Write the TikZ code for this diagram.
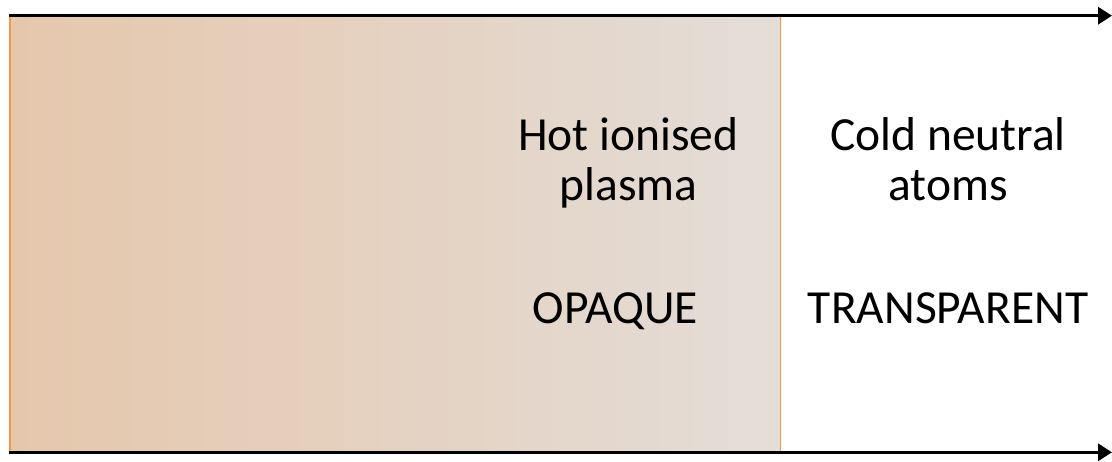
\documentclass[tikz,border=0pt]{standalone}
\usepackage{fontspec}
\setmainfont{Carlito}
\usetikzlibrary{arrows.meta}
\definecolor{leftc}{RGB}{229,199,172}
\definecolor{rightc}{RGB}{228,221,216}
\definecolor{edgeor}{RGB}{247,150,70}
\tikzset{
  axisarrow/.style={line width=3.4pt,-{Triangle[length=14pt,width=17pt]}},
  lbl/.style={font=\fontsize{47.5}{50}\selectfont,align=center,anchor=base,inner sep=0pt},
}
\begin{document}
\begin{tikzpicture}[x=1pt,y=-1pt]
\useasboundingbox (0,0) rectangle (1112,461);
\shade[left color=leftc,right color=rightc] (10,16) rectangle (780.5,452);
\draw[edgeor,line width=1.8pt] (10,16) -- (10,452);
\draw[edgeor,line width=1.8pt] (780.5,16) -- (780.5,452);
\coordinate (ts) at (8.5,15.7);
\coordinate (te) at (1112,15.7);
\coordinate (bs) at (8.5,452.3);
\coordinate (be) at (1112,452.3);
\draw[axisarrow] (ts) -- (te);
\draw[axisarrow] (bs) -- (be);
\node[lbl] (hot) at (628.5,200.7) {Hot ionised\\plasma};
\node[lbl] (cold) at (948,200.7) {Cold neutral\\atoms};
\node[lbl] (opq) at (615.5,323.5) {OPAQUE};
\node[lbl] (trn) at (948,323.5) {TRANSPARENT};
\end{tikzpicture}
\end{document}
